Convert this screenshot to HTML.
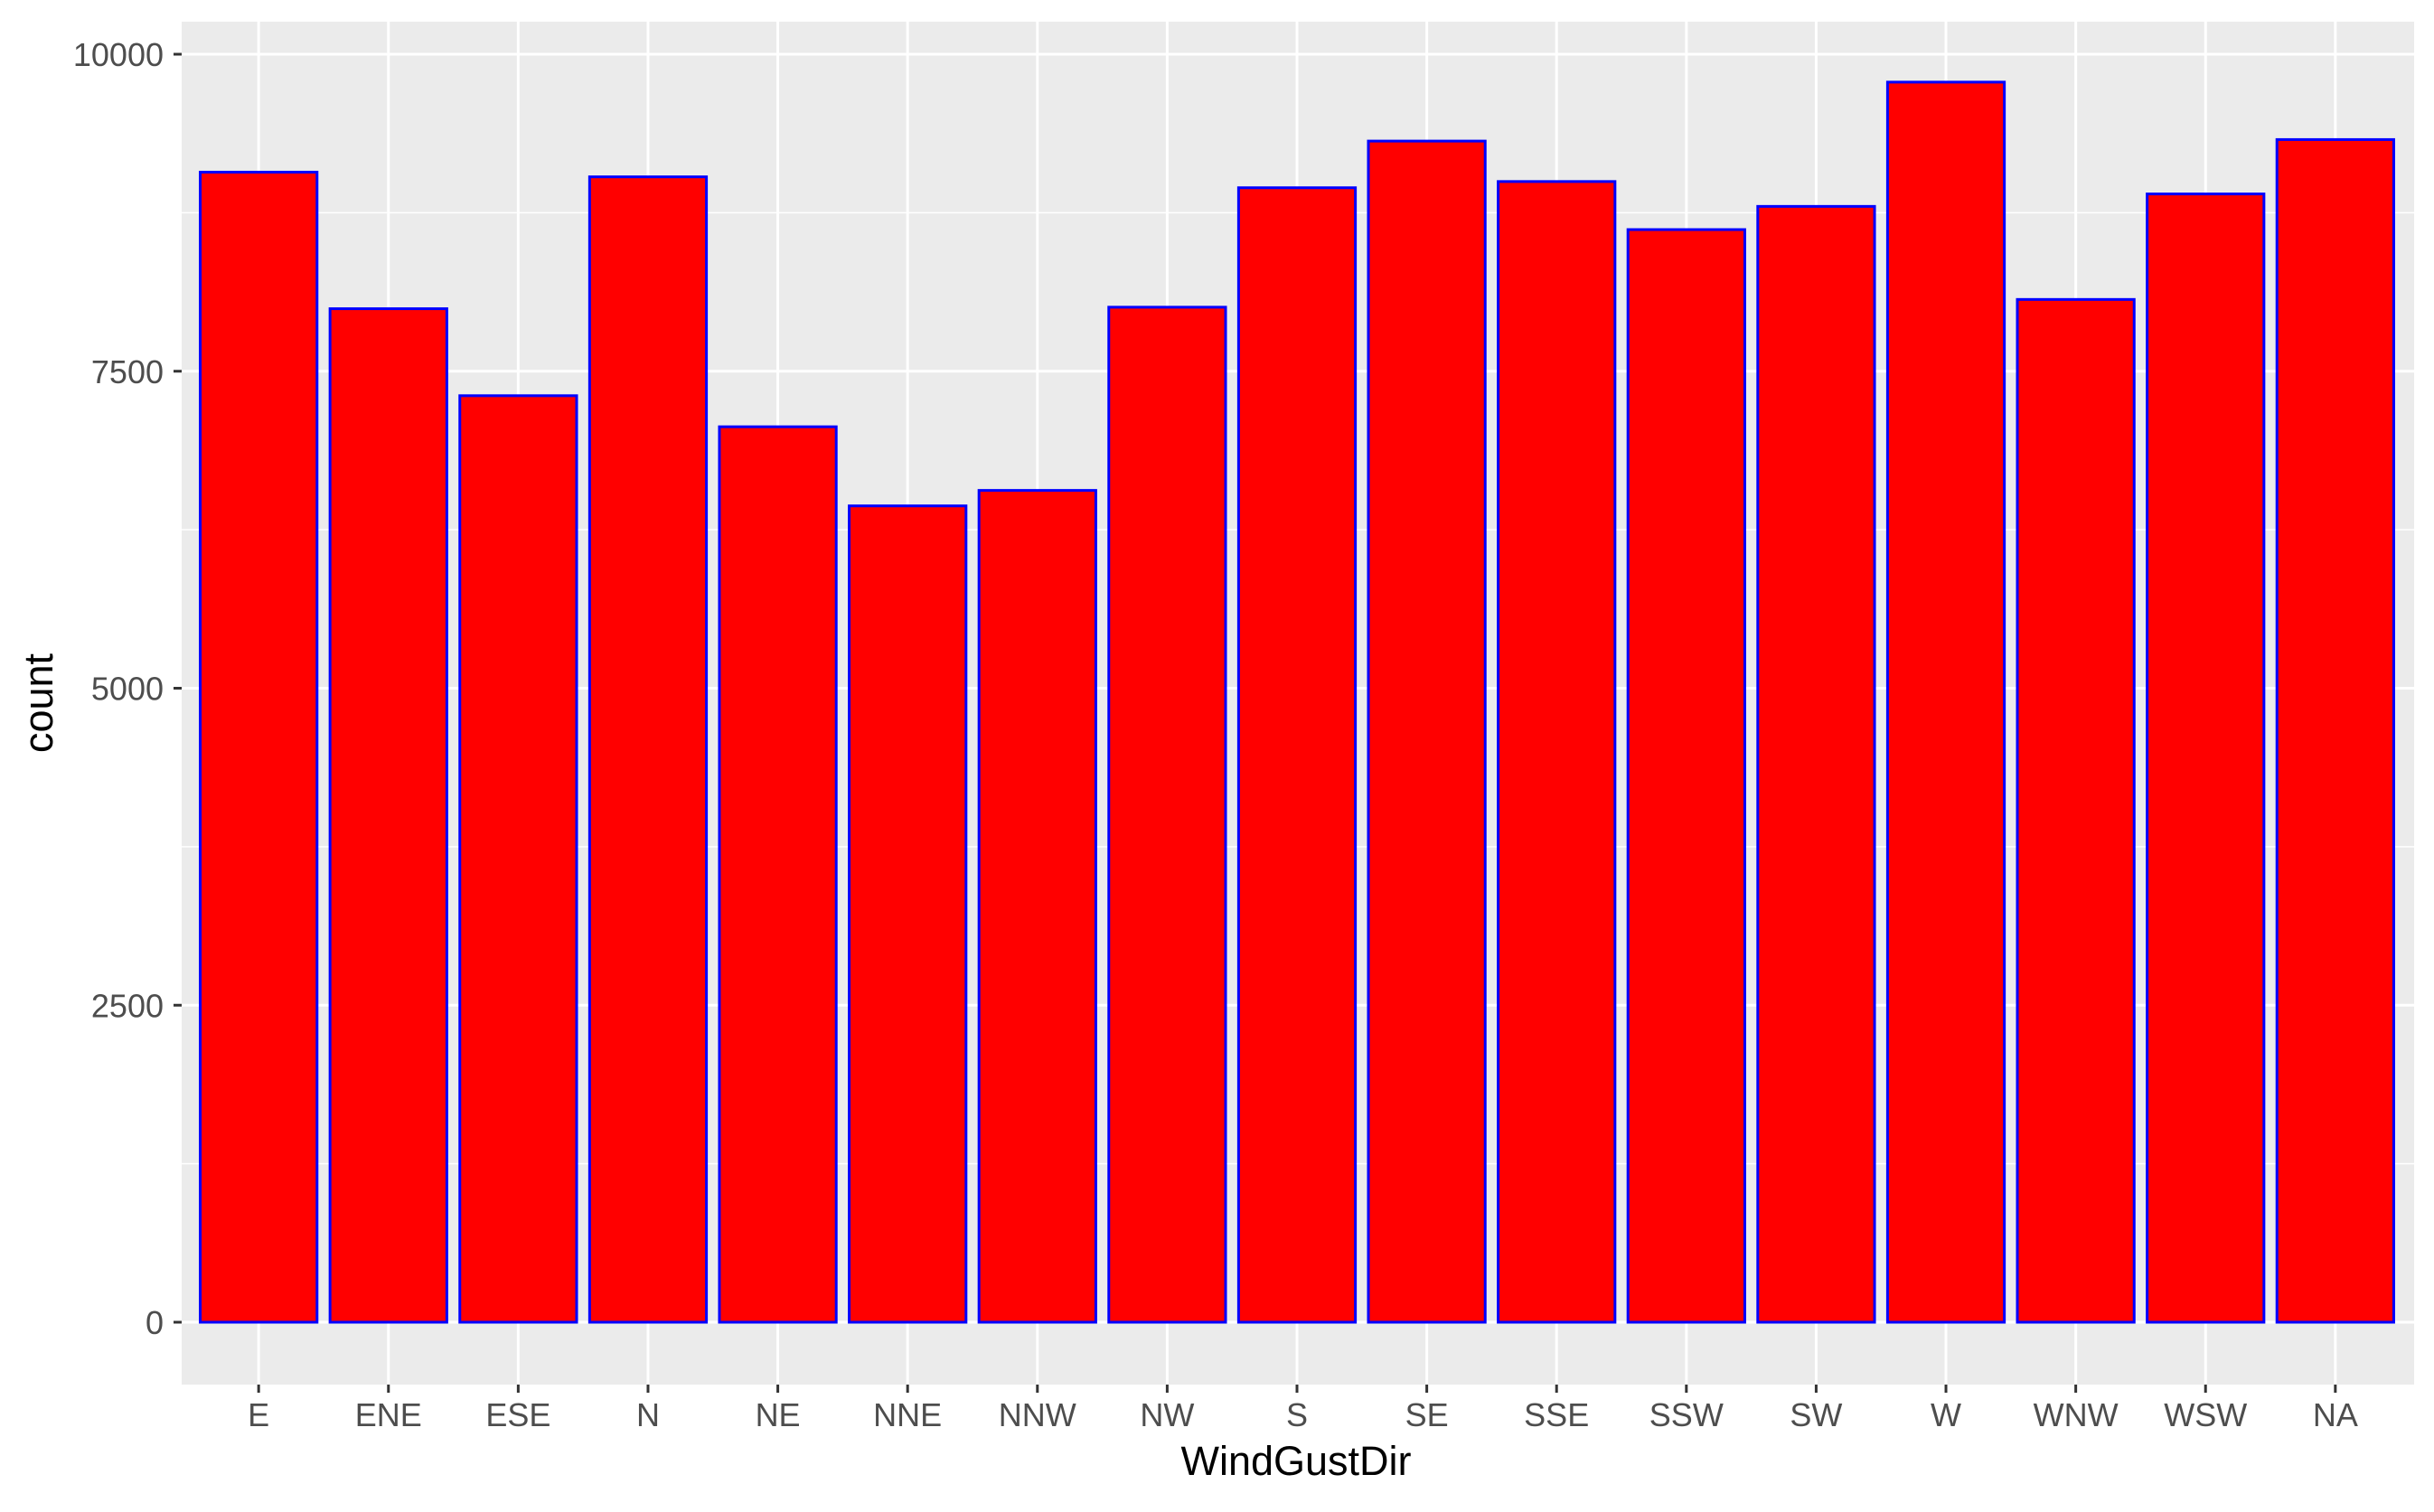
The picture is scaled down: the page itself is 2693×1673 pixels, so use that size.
<!DOCTYPE html>
<html><head><meta charset="utf-8"><style>
body{margin:0;background:#fff;}
svg text{font-family:"Liberation Sans",sans-serif;}
</style></head><body>
<svg id="chart" width="2693" height="1668" xmlns="http://www.w3.org/2000/svg">
<rect x="0" y="0" width="2693" height="1668" fill="#fff"/>
<rect x="201" y="24" width="2470" height="1508" fill="#ebebeb"/>
<g id="grid"></g><g id="bars"></g><g id="axes"></g>
<text x="1434" y="1632" font-size="45" text-anchor="middle" fill="#000">WindGustDir</text>
<text transform="translate(58,778) rotate(-90)" font-size="45" text-anchor="middle" fill="#000">count</text>
</svg>
<script>
const categories=["E","ENE","ESE","N","NE","NNE","NNW","NW","S","SE","SSE","SSW","SW","W","WNW","WSW","NA"];
const counts=[9070,7993,7307,9033,7062,6438,6560,8005,8947,9315,8996,8617,8800,9780,8066,8898,9327];
const yTicks=[0,2500,5000,7500,10000];
const NS="http://www.w3.org/2000/svg";
const pLeft=201,pRight=2671,pTop=24,pBottom=1532;
const yZero=1463,yTen=60;
function yScale(v){return yZero-(v/10000)*(yZero-yTen);}
const nCat=categories.length;
const step=(pRight-pLeft)/(nCat+0.2);
function xScale(i){return pLeft+step*0.6+i*step-1;}
function mk(tag,attrs,parent){const e=document.createElementNS(NS,tag);for(const k in attrs)e.setAttribute(k,attrs[k]);parent.appendChild(e);return e;}
const gridG=document.getElementById('grid'),barsG=document.getElementById('bars'),axesG=document.getElementById('axes');
for(let i=0;i<yTicks.length-1;i++){
  const m=(yTicks[i]+yTicks[i+1])/2;
  const l=mk('line',{x1:pLeft,x2:pRight,y1:yScale(m),y2:yScale(m),stroke:'#fff','stroke-width':1.5},gridG);
  
  
}
yTicks.forEach(t=>{
  const y=yScale(t);
  const l=mk('line',{x1:pLeft,x2:pRight,y1:y,y2:y,stroke:'#fff','stroke-width':3},gridG);
  
  
  const tk=mk('line',{x1:pLeft-9,x2:pLeft,y1:y,y2:y,stroke:'#333','stroke-width':3},axesG);
  
  
  const tx=mk('text',{x:pLeft-20,y:y+13,'font-size':36,'text-anchor':'end',fill:'#4d4d4d'},axesG);
  tx.textContent=t;
  
  
});
const bw=step*0.9;
categories.forEach((c,i)=>{
  const x=xScale(i);
  const l=mk('line',{x1:x,x2:x,y1:pTop,y2:pBottom,stroke:'#fff','stroke-width':3},gridG);
  
  
  const r=mk('rect',{x:x-bw/2,y:yScale(counts[i]),width:bw,height:yScale(0)-yScale(counts[i]),fill:'#ff0000',stroke:'#0000ff','stroke-width':3},barsG);
  
  
  const tk=mk('line',{x1:x,x2:x,y1:pBottom,y2:pBottom+9,stroke:'#333','stroke-width':3},axesG);
  
  
  const tx=mk('text',{x:x,y:pBottom+46,'font-size':36,'text-anchor':'middle',fill:'#4d4d4d'},axesG);
  tx.textContent=c;
  
  
});
</script>
</body></html>
